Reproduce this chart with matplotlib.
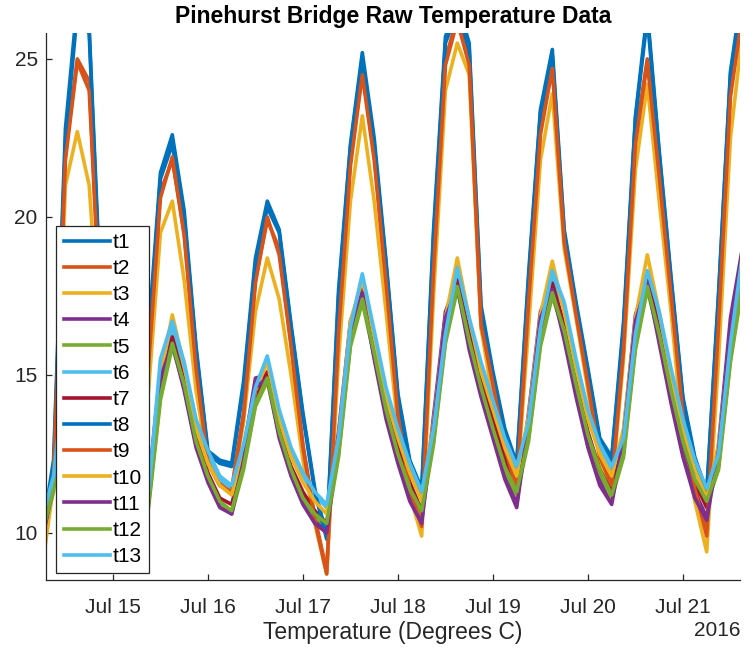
import numpy as np
import pandas as pd
import matplotlib
matplotlib.use("Agg")
import matplotlib.pyplot as plt
import matplotlib.dates as mdates

plt.rcParams['font.family'] = ['Liberation Sans', 'DejaVu Sans']

# readings every 3 hours, Jul 14 06:00 -> Jul 21 15:00
times = pd.date_range("2016-07-14 06:00", periods=60, freq="3h")

t1 = [9.9, 12.3, 22.8, 26.8, 26.0, 17.2, 14.2, 12.6, 11.6, 16.3, 21.4, 22.6, 20.2, 15.9, 12.6, 12.3, 12.2, 14.8, 18.7, 20.5,
      19.6, 16.6, 13.8, 11.4, 9.9, 17.7, 22.3, 25.2, 22.5, 18.6, 14.4, 12.3, 11.4, 19.6, 25.7, 26.8, 25.5, 17.2, 15.1, 13.3,
      12.2, 18.2, 23.4, 25.3, 19.6, 17.3, 15.2, 13.0, 12.4, 16.7, 23.2, 26.5, 22.1, 18.1, 14.3, 12.4, 11.3, 17.6, 24.6, 27.2]
t2 = [9.8, 11.8, 22.0, 25.0, 24.3, 16.5, 13.5, 12.0, 11.0, 15.5, 20.8, 21.8, 19.5, 15.3, 12.3, 11.6, 11.4, 13.8, 18.0, 19.9,
      19.0, 16.0, 12.8, 10.5, 8.8, 16.5, 21.8, 24.6, 22.0, 18.0, 13.8, 11.5, 10.3, 18.5, 25.0, 26.3, 25.0, 16.5, 14.8, 12.8,
      11.5, 17.5, 22.8, 24.8, 19.3, 17.0, 14.8, 12.5, 11.6, 16.0, 22.5, 25.0, 21.5, 17.6, 13.8, 11.5, 10.0, 16.8, 24.0, 26.5]
t3 = [8.8, 11.5, 21.0, 22.7, 21.0, 15.5, 13.0, 11.5, 10.6, 14.5, 19.5, 20.5, 18.0, 14.5, 12.2, 11.5, 11.3, 13.5, 17.0, 18.7,
      17.4, 15.0, 12.3, 10.3, 8.7, 15.5, 20.5, 23.2, 20.5, 17.0, 13.3, 11.2, 9.9, 17.5, 24.0, 25.5, 24.5, 16.5, 14.2, 12.5,
      11.4, 16.5, 21.8, 23.9, 19.0, 16.8, 14.5, 12.3, 11.4, 15.5, 21.5, 24.2, 20.5, 17.0, 13.0, 11.0, 9.4, 15.5, 22.5, 25.8]
t4 = [9.8, 11.8, 15.6, 16.7, 15.3, 13.2, 11.6, 10.5, 9.9, 11.5, 15.2, 16.2, 14.6, 12.8, 11.7, 10.9, 10.6, 12.6, 14.9, 15.0,
      13.1, 11.9, 11.0, 10.4, 10.1, 13.2, 16.7, 17.8, 15.6, 13.8, 12.4, 11.2, 10.4, 13.7, 17.0, 18.0, 16.0, 14.5, 13.2, 11.9,
      10.9, 13.8, 17.0, 17.9, 16.3, 14.5, 12.9, 11.7, 11.0, 13.2, 16.9, 18.1, 16.2, 14.3, 12.6, 11.3, 10.5, 12.8, 16.8, 19.0]
t5 = [9.9, 11.3, 14.8, 16.0, 15.0, 13.1, 11.5, 10.5, 10.0, 10.8, 14.2, 15.9, 14.6, 12.8, 11.7, 10.9, 10.6, 12.0, 14.0, 14.8,
      13.1, 11.9, 11.0, 10.5, 10.2, 12.4, 15.9, 17.3, 15.6, 13.8, 12.4, 11.3, 10.6, 12.8, 16.0, 17.7, 16.0, 14.5, 13.2, 12.0,
      11.2, 12.9, 15.9, 17.5, 16.3, 14.6, 13.0, 11.9, 11.1, 12.4, 15.8, 17.7, 16.2, 14.4, 12.8, 11.6, 10.9, 12.0, 15.4, 17.8]
t6 = [10.3, 11.7, 15.2, 16.8, 15.8, 13.9, 12.3, 11.2, 10.6, 11.2, 14.7, 16.5, 15.2, 13.5, 12.5, 11.7, 11.4, 12.7, 14.5, 15.5,
      13.8, 12.6, 11.8, 11.2, 10.8, 12.9, 16.3, 18.0, 16.2, 14.5, 13.2, 12.1, 11.2, 13.2, 16.2, 18.2, 16.6, 15.2, 14.0, 12.9,
      12.0, 13.4, 16.3, 18.1, 17.1, 15.3, 13.8, 12.7, 12.0, 12.9, 16.1, 18.1, 16.8, 15.0, 13.5, 12.2, 11.3, 12.4, 15.8, 18.5]
t7 = [10.0, 11.6, 15.2, 16.6, 15.5, 13.5, 11.9, 10.8, 10.1, 11.0, 14.6, 16.2, 14.8, 13.0, 11.9, 11.1, 10.9, 12.4, 14.3, 15.1,
      13.3, 12.1, 11.3, 10.7, 10.3, 12.8, 16.2, 17.8, 15.8, 14.0, 12.7, 11.6, 10.7, 13.2, 16.4, 18.0, 16.3, 14.8, 13.6, 12.4,
      11.3, 13.3, 16.4, 17.9, 16.6, 14.8, 13.2, 12.0, 11.3, 12.8, 16.3, 18.1, 16.4, 14.5, 12.9, 11.6, 10.8, 12.3, 16.0, 18.9]
t8 = [9.8, 12.0, 22.4, 26.5, 25.8, 17.0, 14.0, 12.5, 11.5, 16.0, 21.2, 22.3, 20.0, 15.8, 12.5, 12.2, 12.1, 14.6, 18.5, 20.3,
      19.5, 16.5, 13.7, 11.3, 9.8, 17.5, 22.2, 25.0, 22.3, 18.5, 14.3, 12.2, 11.3, 19.4, 25.5, 26.5, 25.3, 17.0, 15.0, 13.2,
      12.1, 18.0, 23.3, 25.1, 19.5, 17.2, 15.1, 12.9, 12.3, 16.5, 23.1, 26.3, 22.0, 18.0, 14.2, 12.3, 11.2, 17.5, 24.5, 27.0]
t9 = [9.7, 11.7, 21.8, 24.9, 24.0, 16.4, 13.4, 11.9, 10.9, 15.3, 20.6, 21.9, 19.4, 15.2, 12.2, 11.5, 11.3, 13.7, 17.9, 20.0,
      18.8, 15.9, 12.7, 10.4, 8.7, 16.3, 21.6, 24.5, 21.8, 17.9, 13.7, 11.4, 10.2, 18.3, 24.8, 26.2, 24.8, 16.6, 14.7, 12.7,
      11.4, 17.3, 22.6, 24.7, 19.2, 16.9, 14.7, 12.4, 11.5, 15.8, 22.3, 24.9, 21.3, 17.5, 13.7, 11.4, 9.9, 16.6, 23.8, 26.4]
t10 = [10.0, 11.5, 15.5, 17.2, 16.0, 13.8, 12.0, 11.0, 10.4, 11.2, 15.0, 16.9, 15.3, 13.3, 12.2, 11.5, 11.2, 12.6, 14.5, 15.4,
       13.6, 12.4, 11.6, 11.0, 10.6, 13.0, 16.7, 18.0, 16.2, 14.3, 13.0, 11.9, 11.0, 13.5, 16.8, 18.7, 16.8, 15.1, 13.9, 12.7,
       11.8, 13.7, 16.9, 18.6, 17.0, 15.2, 13.6, 12.5, 11.8, 13.3, 16.8, 18.8, 17.0, 15.0, 13.3, 12.0, 11.1, 12.8, 16.3, 18.6]
t11 = [9.7, 11.5, 15.3, 16.5, 15.2, 13.1, 11.5, 10.4, 9.8, 11.2, 14.9, 16.0, 14.5, 12.7, 11.6, 10.8, 10.6, 12.3, 14.6, 14.9,
       13.0, 11.8, 10.9, 10.3, 10.0, 12.9, 16.4, 17.6, 15.5, 13.6, 12.2, 11.0, 10.3, 13.4, 16.8, 17.8, 15.8, 14.3, 13.0, 11.7,
       10.8, 13.5, 16.8, 17.7, 16.1, 14.3, 12.7, 11.5, 10.9, 13.0, 16.7, 17.9, 16.0, 14.1, 12.4, 11.1, 10.4, 12.6, 16.5, 18.7]
t12 = [9.9, 11.4, 14.9, 16.1, 15.1, 13.2, 11.6, 10.6, 10.1, 10.9, 14.3, 16.0, 14.7, 12.9, 11.8, 11.0, 10.7, 12.1, 14.1, 14.9,
       13.2, 12.0, 11.1, 10.6, 10.3, 12.5, 16.0, 17.4, 15.7, 13.9, 12.5, 11.4, 10.7, 12.9, 16.1, 17.8, 16.1, 14.6, 13.3, 12.1,
       11.3, 13.0, 16.0, 17.6, 16.4, 14.7, 13.1, 12.0, 11.2, 12.5, 15.9, 17.8, 16.3, 14.5, 12.9, 11.7, 11.0, 12.1, 15.5, 17.9]
t13 = [10.4, 11.8, 15.3, 16.9, 16.0, 14.0, 12.4, 11.3, 10.7, 11.3, 15.5, 16.7, 15.4, 13.6, 12.6, 11.8, 11.5, 12.8, 14.6, 15.6,
       13.9, 12.7, 11.9, 11.3, 10.9, 13.0, 16.5, 18.2, 16.4, 14.6, 13.3, 12.2, 11.3, 13.3, 16.3, 18.4, 16.8, 15.4, 14.2, 13.0,
       12.1, 13.5, 16.5, 18.3, 17.3, 15.5, 13.9, 12.8, 12.1, 13.0, 16.3, 18.3, 17.0, 15.2, 13.6, 12.3, 11.4, 12.5, 16.0, 18.8]

series = [t1, t2, t3, t4, t5, t6, t7, t8, t9, t10, t11, t12, t13]
names = ['t1', 't2', 't3', 't4', 't5', 't6', 't7', 't8', 't9', 't10', 't11', 't12', 't13']

# matlab default line colours
colors = ['#0072BD', '#D95319', '#EDB120', '#7E2F8E', '#77AC30', '#4DBEEE', '#A2142F']

fig = plt.figure(figsize=(7.45, 6.51), dpi=100)
ax = fig.add_axes([0.0617, 0.1091, 0.9316, 0.8402])

for i, (s, n) in enumerate(zip(series, names)):
    ax.plot(times, s, color=colors[i % 7], lw=2.6, label=n)

ax.set_xlim(pd.Timestamp("2016-07-14 07:05"), pd.Timestamp("2016-07-21 14:25"))
ax.set_ylim(8.51, 25.82)
ax.set_yticks([10, 15, 20, 25])
ax.set_xticks(pd.date_range("2016-07-15", "2016-07-21", freq="D"))
ax.xaxis.set_major_formatter(mdates.DateFormatter('%b %d'))

gray = '#262626'
for side in ['top', 'right']:
    ax.spines[side].set_visible(False)
for side in ['left', 'bottom']:
    ax.spines[side].set_color(gray)
    ax.spines[side].set_linewidth(0.9)
ax.tick_params(direction='in', length=4, width=0.9, colors=gray, labelsize=15)
ax.tick_params(axis='x', pad=13)
ax.tick_params(axis='y', pad=6)

ax.set_title("Pinehurst Bridge Raw Temperature Data", fontsize=16.5, fontweight='bold', pad=7)
ax.set_xlabel("Temperature (Degrees C)", fontsize=16.5, color=gray, labelpad=3)
ax.text(1.0, -0.092, "2016", transform=ax.transAxes, ha='right', va='center', fontsize=15, color=gray)

leg = ax.legend(loc='lower left', bbox_to_anchor=(0.015, 0.012), fontsize=15, frameon=True, fancybox=False,
                framealpha=1, edgecolor='#262626', handlelength=2.2, handletextpad=0.15, labelspacing=0.345,
                borderpad=0.35, borderaxespad=0)
leg.get_frame().set_linewidth(0.9)

fig.savefig("out.png", dpi=100)
